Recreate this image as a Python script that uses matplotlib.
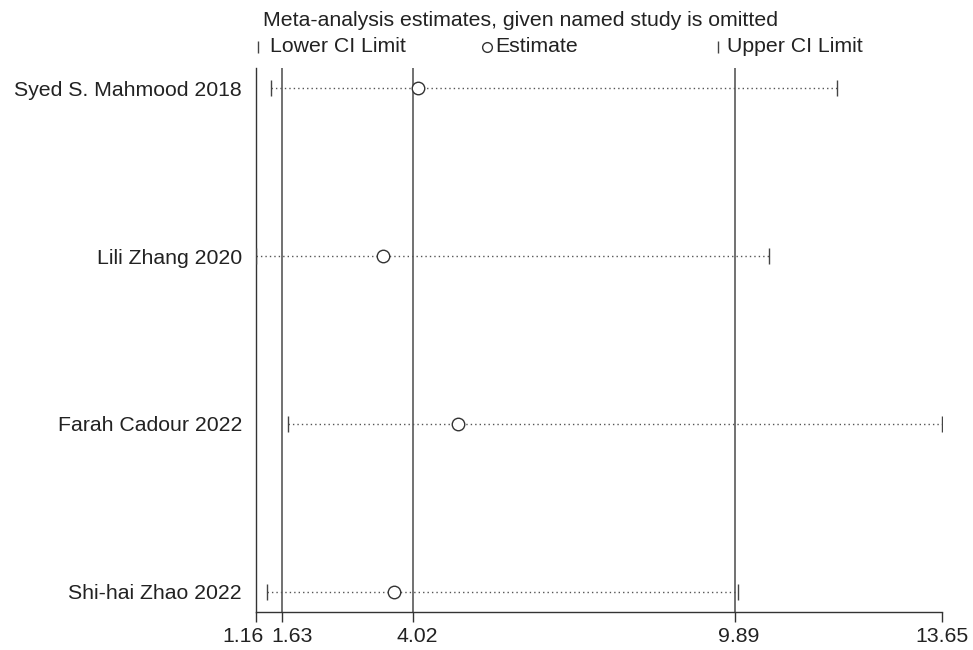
import matplotlib
matplotlib.use("Agg")
import matplotlib.pyplot as plt
from matplotlib.lines import Line2D
import matplotlib.transforms as mtransforms

studies = ["Syed S. Mahmood 2018", "Lili Zhang 2020", "Farah Cadour 2022", "Shi-hai Zhao 2022"]
estimate = [4.11, 3.47, 4.84, 3.67]
lower = [1.43, 1.16, 1.74, 1.36]
upper = [11.74, 10.50, 13.65, 9.94]
overall = [1.63, 4.02, 9.89]
xticks = [1.16, 1.63, 4.02, 9.89, 13.65]
xticklabels = ["1.16", "1.63", "4.02", "9.89", "13.65"]

plt.rcParams['font.family'] = ['Liberation Sans', 'DejaVu Sans']
FS = 15.3
TC = "#222222"

fig = plt.figure(figsize=(9.73, 6.5), dpi=100)
ax = fig.add_axes([256/973, 38/650, 686/973, (612-68)/650])

ypos = list(range(1, len(studies) + 1))
for v in overall:
    ax.axvline(v, color="#4a4a4a", lw=1.1, zorder=1)

for y, lo, est, up in zip(ypos, lower, estimate, upper):
    ax.plot([lo, up], [y, y], linestyle=(0, (1, 2.2)), color="#555555", lw=1.0, zorder=2)
    ax.plot([lo, up], [y, y], linestyle="none", marker="|", markersize=12,
            markeredgewidth=1.0, color="#444444", zorder=3)
    ax.plot([est], [y], linestyle="none", marker="o", markersize=9,
            markerfacecolor="white", markeredgecolor="#333333", markeredgewidth=1.0, zorder=4)

ax.set_xlim(xticks[0], xticks[-1])
ax.set_ylim(len(studies) + 0.12, 0.88)
ax.set_yticks(ypos)
ax.set_yticklabels(studies, fontsize=FS, color=TC)
ax.tick_params(axis="y", length=0, pad=10)
ax.set_xticks(xticks)
ax.set_xticklabels(xticklabels, fontsize=FS, color=TC)
ax.tick_params(axis="x", length=7.5, width=1.0, color="#333333", pad=3.5, direction="out")
shifts = [-13, 10, 4, 3, 0]
for lab, dx in zip(ax.get_xticklabels(), shifts):
    lab.set_transform(lab.get_transform() + mtransforms.ScaledTranslation(dx/100, 0, fig.dpi_scale_trans))
for s in ["top", "right"]:
    ax.spines[s].set_visible(False)
for s in ["left", "bottom"]:
    ax.spines[s].set_color("#333333")
    ax.spines[s].set_linewidth(1.0)

# legend / title drawn at top
fig.text(263/973, 1 - 21/650, "Meta-analysis estimates, given named study is omitted",
         fontsize=FS, va="center", ha="left", color=TC)
ly = 1 - 47/650
fig.add_artist(Line2D([258/973], [ly], marker="|", markersize=8, markeredgewidth=1.0,
                      color="#444444", linestyle="none", transform=fig.transFigure))
fig.text(270/973, ly, "Lower CI Limit", fontsize=FS, va="center", ha="left", color=TC)
fig.add_artist(Line2D([487/973], [ly], marker="o", markersize=7, markerfacecolor="white",
                      markeredgecolor="#333333", markeredgewidth=1.0,
                      linestyle="none", transform=fig.transFigure))
fig.text(495/973, ly, "Estimate", fontsize=FS, va="center", ha="left", color=TC)
fig.add_artist(Line2D([718/973], [ly], marker="|", markersize=8, markeredgewidth=1.0,
                      color="#444444", linestyle="none", transform=fig.transFigure))
fig.text(727/973, ly, "Upper CI Limit", fontsize=FS, va="center", ha="left", color=TC)

fig.savefig("out.png", dpi=100)
